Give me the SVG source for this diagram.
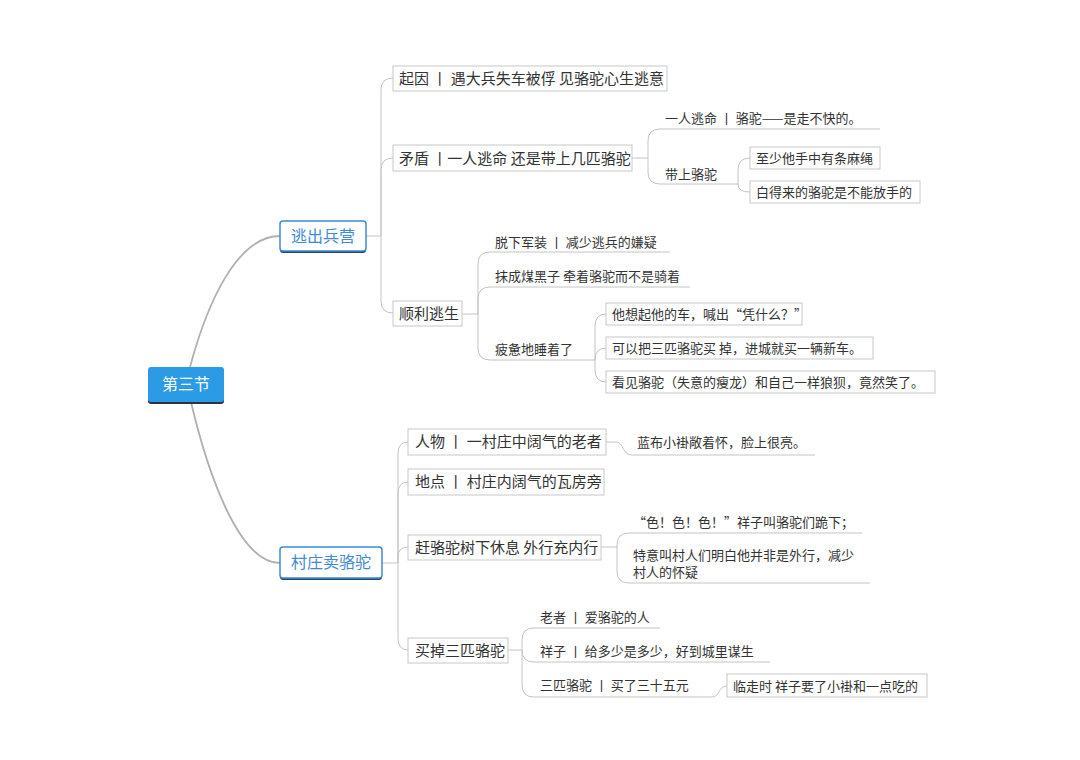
<svg xmlns="http://www.w3.org/2000/svg" width="1080" height="760" viewBox="0 0 1080 760">
<style>
text{font-family:"Noto Sans CJK SC","Noto Sans",sans-serif;fill:#333}
.t15{font-size:15px}
.t13{font-size:13px}
.box{fill:#fff;stroke:#c8c8c8;stroke-width:1}
.c{fill:none;stroke:#c4c4c4;stroke-width:1}
.cr{fill:none;stroke:#b0b0b0;stroke-width:1.8}
.l1{fill:#fff;stroke:#3b8ad9;stroke-width:1.5}
.l1s{fill:#23466e}
.l1t{font-size:16px;fill:#3f8ad6}
</style>
<rect width="1080" height="760" fill="#fff"/>
<g id="connectors">
<path class="cr" d="M190,367 C208,300 238,236 280,236"/>
<path class="cr" d="M191,402 C207,470 238,563 280,563"/>
<path class="c" d="M366,236 H381"/>
<path class="c" d="M381,236 V90 Q381,78 393,78"/>
<path class="c" d="M381,236 V170 Q381,158 393,158"/>
<path class="c" d="M381,236 V301 Q381,313 393,313"/>
<path class="c" d="M632,158 H648"/>
<path class="c" d="M648,158 V141 Q648,129 660,129 H880"/>
<path class="c" d="M648,158 V172 Q648,184 660,184 H738"/>
<path class="c" d="M738,184 V170 Q738,158 750,158"/>
<path class="c" d="M738,184 Q738,192 750,192"/>
<path class="c" d="M462,314 H478"/>
<path class="c" d="M478,314 V264 Q478,252 490,252 H670"/>
<path class="c" d="M478,314 V299 Q478,287 490,287 H690"/>
<path class="c" d="M478,314 V348 Q478,360 490,360 H595"/>
<path class="c" d="M595,360 V326 Q595,314 606,314"/>
<path class="c" d="M595,360 Q595,348 606,348"/>
<path class="c" d="M595,360 V370 Q595,382 606,382"/>
<path class="c" d="M382,563 H398"/>
<path class="c" d="M398,563 V454 Q398,442 408,442"/>
<path class="c" d="M398,563 V494 Q398,482 408,482"/>
<path class="c" d="M398,563 V557 Q398,547 408,547"/>
<path class="c" d="M398,563 V638 Q398,650 408,650"/>
<path class="c" d="M606,442 H616 C624,442 622,455 632,455 H815"/>
<path class="c" d="M601,547 H617"/>
<path class="c" d="M617,547 V545 Q617,533 629,533 H862"/>
<path class="c" d="M617,547 V571 Q617,583 629,583 H870"/>
<path class="c" d="M508,650 H522"/>
<path class="c" d="M522,650 V640 Q522,628 534,628 H660"/>
<path class="c" d="M522,650 Q522,662 534,662 H770"/>
<path class="c" d="M522,650 V685 Q522,697 534,697 H712"/>
<path class="c" d="M712,697 C720,697 718,686 727,686"/>
</g>
<g id="root">
<rect x="148" y="369" width="76" height="35" rx="3" fill="#2a3440"/>
<rect x="148" y="367" width="76" height="35" rx="3" fill="#2b9be6"/>
<text x="186" y="390" text-anchor="middle" style="font-size:16px;fill:#fff">第三节</text>
</g>
<g id="n-escape">
<rect class="l1s" x="280" y="223" width="86" height="30" rx="3"/>
<rect class="l1" x="280" y="221" width="86" height="30" rx="3"/>
<text class="l1t" x="323" y="242" text-anchor="middle">逃出兵营</text>
</g>
<g id="n-village">
<rect class="l1s" x="280" y="549" width="102" height="31" rx="3"/>
<rect class="l1" x="280" y="547" width="102" height="31" rx="3"/>
<text class="l1t" x="331" y="568" text-anchor="middle">村庄卖骆驼</text>
</g>
<g id="n-cause">
<rect class="box" x="393" y="66" width="274" height="25"/>
<text class="t15" x="399" y="84">起因 丨 遇大兵失车被俘 见骆驼心生逃意</text>
</g>
<g id="n-conflict">
<rect class="box" x="393" y="145" width="239" height="26"/>
<text class="t15" x="399" y="164">矛盾 丨一人逃命 还是带上几匹骆驼</text>
</g>
<g id="n-alone">
<text class="t13" x="665" y="123">一人逃命 丨 骆驼——是走不快的。</text>
</g>
<g id="n-take">
<text class="t13" x="665" y="179">带上骆驼</text>
</g>
<g id="n-rope">
<rect class="box" x="750" y="147" width="130" height="22"/>
<text class="t13" x="756" y="163">至少他手中有条麻绳</text>
</g>
<g id="n-free">
<rect class="box" x="750" y="181" width="170" height="22"/>
<text class="t13" x="756" y="197">白得来的骆驼是不能放手的</text>
</g>
<g id="n-success">
<rect class="box" x="393" y="301" width="69" height="25"/>
<text class="t15" x="399" y="319">顺利逃生</text>
</g>
<g id="n-uniform">
<text class="t13" x="495" y="247">脱下军装 丨 减少逃兵的嫌疑</text>
</g>
<g id="n-coal">
<text class="t13" x="495" y="281">抹成煤黑子 牵着骆驼而不是骑着</text>
</g>
<g id="n-sleep">
<text class="t13" x="495" y="354">疲惫地睡着了</text>
</g>
<g id="n-cart">
<rect class="box" x="606" y="303" width="196" height="22"/>
<text class="t13" x="612" y="319">他想起他的车，喊出“凭什么？”</text>
</g>
<g id="n-sell">
<rect class="box" x="606" y="337" width="267" height="22"/>
<text class="t13" x="612" y="353">可以把三匹骆驼买 掉，进城就买一辆新车。</text>
</g>
<g id="n-laugh">
<rect class="box" x="606" y="371" width="329" height="22"/>
<text class="t13" x="612" y="387">看见骆驼（失意的瘦龙）和自己一样狼狈，竟然笑了。</text>
</g>
<g id="n-person">
<rect class="box" x="408" y="429" width="198" height="26"/>
<text class="t15" x="415" y="447">人物 丨 一村庄中阔气的老者</text>
</g>
<g id="n-coat">
<text class="t13" x="637" y="447">蓝布小褂敞着怀，脸上很亮。</text>
</g>
<g id="n-place">
<rect class="box" x="408" y="469" width="196" height="26"/>
<text class="t15" x="415" y="487">地点 丨 村庄内阔气的瓦房旁</text>
</g>
<g id="n-rest">
<rect class="box" x="408" y="535" width="193" height="25"/>
<text class="t15" x="415" y="553">赶骆驼树下休息 外行充内行</text>
</g>
<g id="n-kneel">
<text class="t13" x="633" y="527">“色！色！色！”祥子叫骆驼们跪下；</text>
</g>
<g id="n-expert">
<text class="t13" x="633" y="560">特意叫村人们明白他并非是外行，减少</text>
<text class="t13" x="633" y="577">村人的怀疑</text>
</g>
<g id="n-sold">
<rect class="box" x="408" y="638" width="100" height="25"/>
<text class="t15" x="415" y="656">买掉三匹骆驼</text>
</g>
<g id="n-elder">
<text class="t13" x="540" y="622">老者 丨 爱骆驼的人</text>
</g>
<g id="n-xiangzi">
<text class="t13" x="540" y="656">祥子 丨 给多少是多少，好到城里谋生</text>
</g>
<g id="n-price">
<text class="t13" x="540" y="690">三匹骆驼 丨 买了三十五元</text>
</g>
<g id="n-leave">
<rect class="box" x="727" y="674" width="200" height="23"/>
<text class="t13" x="733" y="691">临走时 祥子要了小褂和一点吃的</text>
</g>
</svg>
